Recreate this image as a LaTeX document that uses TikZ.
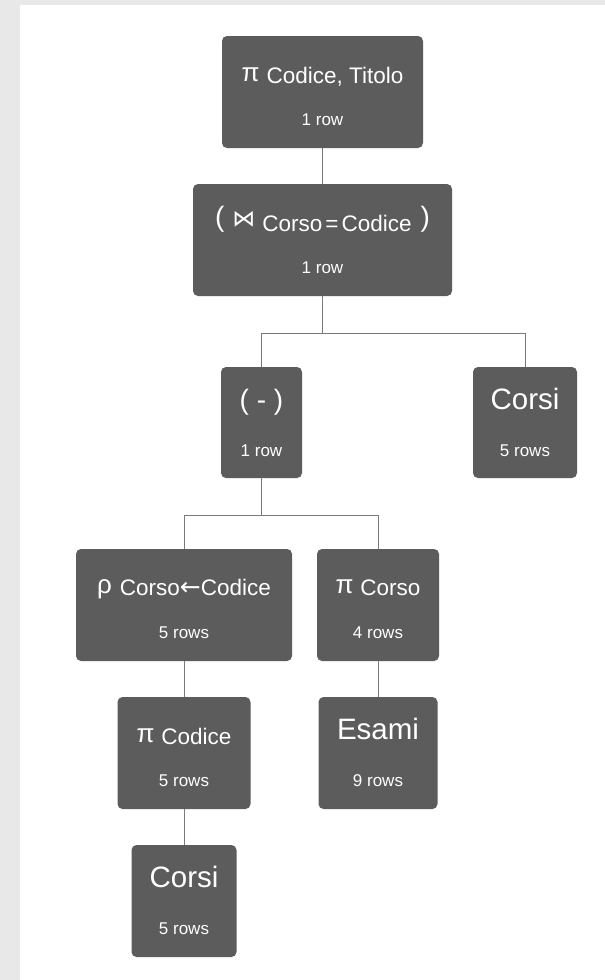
\documentclass[tikz,border=0pt]{standalone}
\usepackage{fontspec}
\setmainfont{Liberation Sans}
\newfontfamily\qSymFont{DejaVu Sans}
\definecolor{boxgray}{HTML}{5C5C5C}
\definecolor{linegray}{HTML}{7A7A7A}
\definecolor{bggray}{HTML}{E8E8E8}
\newcommand{\qBig}{\fontsize{29.5}{31}\selectfont}
\newcommand{\qSub}{\fontsize{22.5}{24}\selectfont}
\newcommand{\qSym}{\fontsize{26}{28}\selectfont}
\newcommand{\qRow}{\fontsize{17}{19}\selectfont}
\newcommand{\qPar}{\fontsize{28}{30}\selectfont}
\tikzset{
  opbox/.style={fill=boxgray, draw=none, rounded corners=5pt, inner sep=0pt},
  ttext/.style={anchor=base, text=white, inner sep=0pt},
  conn/.style={draw=linegray, line width=1pt},
}
\begin{document}
\begin{tikzpicture}[x=1pt,y=-1pt]
\fill[white] (0,0) rectangle (605,980);
\fill[bggray] (0,0) rectangle (20,980);
\fill[bggray] (0,0) rectangle (605,5);
\useasboundingbox (0,0) rectangle (605,980);

% boxes
\node[opbox, minimum width=201pt, minimum height=112pt] (b1) at (322.5,92) {};
\node[opbox, minimum width=259pt, minimum height=112pt] (b2) at (322.5,240) {};
\node[opbox, minimum width=81pt, minimum height=111pt] (b3) at (261.5,422.5) {};
\node[opbox, minimum width=104pt, minimum height=111pt] (b4) at (525,422.5) {};
\node[opbox, minimum width=216pt, minimum height=112pt] (b5) at (184,605) {};
\node[opbox, minimum width=122pt, minimum height=112pt] (b6) at (378,605) {};
\node[opbox, minimum width=133pt, minimum height=112pt] (b7) at (184,753) {};
\node[opbox, minimum width=119pt, minimum height=112pt] (b8) at (378,753) {};
\node[opbox, minimum width=105pt, minimum height=112pt] (b9) at (184,901) {};

% titles
\node[ttext] (b1t) at ([yshift=-48pt]b1.north) {\raisebox{2pt}{\qSym π}\hspace{7pt}{\qSub Codice, Titolo}};
\node[ttext] (b2t) at ([yshift=-48pt]b2.north) {\raisebox{5pt}{\qPar (}\hspace{8pt}\raisebox{5pt}{\qSymFont\fontsize{23}{24}\selectfont ⋈}\hspace{7pt}{\qSub Corso\hspace{3pt}=\hspace{3pt}Codice}\hspace{9pt}\raisebox{5pt}{\qPar )}};
\node[ttext] (b3t) at ([yshift=-43pt]b3.north) {\qPar ( - )};
\node[ttext] (b4t) at ([yshift=-43pt]b4.north) {\qBig Corsi};
\node[ttext] (b5t) at ([yshift=-47pt]b5.north) {\raisebox{2pt}{\qSym ρ}\hspace{8pt}{\qSub Corso{\qSymFont\fontsize{25}{26}\selectfont ←}Codice}};
\node[ttext] (b6t) at ([yshift=-47pt]b6.north) {\raisebox{2pt}{\qSym π}\hspace{7pt}{\qSub Corso}};
\node[ttext] (b7t) at ([yshift=-48pt]b7.north) {\raisebox{2pt}{\qSym π}\hspace{7pt}{\qSub Codice}};
\node[ttext] (b8t) at ([yshift=-43pt]b8.north) {\qBig Esami};
\node[ttext] (b9t) at ([yshift=-43pt]b9.north) {\qBig Corsi};

% row counts
\node[ttext] (b1r) at ([yshift=-90pt]b1.north) {\qRow 1 row};
\node[ttext] (b2r) at ([yshift=-90pt]b2.north) {\qRow 1 row};
\node[ttext] (b3r) at ([yshift=-90pt]b3.north) {\qRow 1 row};
\node[ttext] (b4r) at ([yshift=-90pt]b4.north) {\qRow 5 rows};
\node[ttext] (b5r) at ([yshift=-90pt]b5.north) {\qRow 5 rows};
\node[ttext] (b6r) at ([yshift=-90pt]b6.north) {\qRow 4 rows};
\node[ttext] (b7r) at ([yshift=-90pt]b7.north) {\qRow 5 rows};
\node[ttext] (b8r) at ([yshift=-90pt]b8.north) {\qRow 9 rows};
\node[ttext] (b9r) at ([yshift=-90pt]b9.north) {\qRow 5 rows};

% connectors
\draw[conn] (b1.south) -- (b2.north);
\draw[conn] (b2.south) -- ++(0,37) -| (b3.north);
\draw[conn] (b2.south) -- ++(0,37) -| (b4.north);
\draw[conn] (b3.south) -- ++(0,37) -| (b5.north);
\draw[conn] (b3.south) -- ++(0,37) -| (b6.north);
\draw[conn] (b5.south) -- (b7.north);
\draw[conn] (b6.south) -- (b8.north);
\draw[conn] (b7.south) -- (b9.north);
\end{tikzpicture}
\end{document}
